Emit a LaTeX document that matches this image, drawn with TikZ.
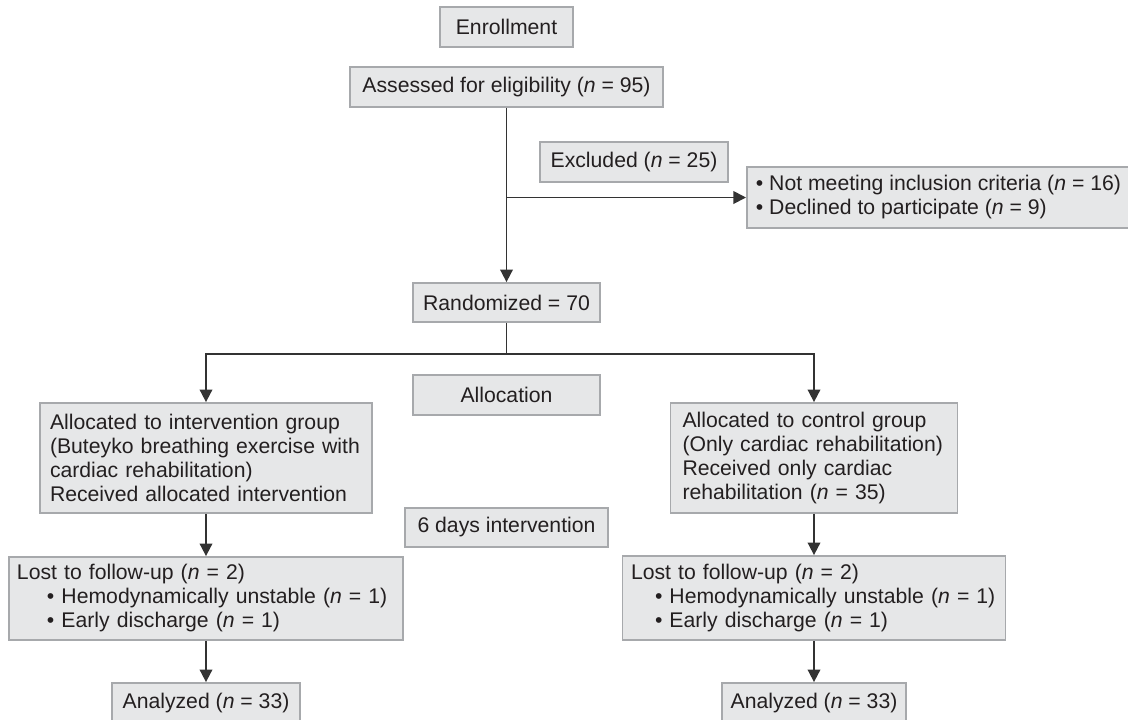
\documentclass[tikz,border=0pt]{standalone}
\usepackage{fontspec}
\setmainfont{Liberation Sans}
\usetikzlibrary{arrows.meta}
\definecolor{boxfill}{HTML}{E6E7E8}
\definecolor{boxline}{HTML}{A7A9AC}
\definecolor{arrowline}{HTML}{333333}
\definecolor{textcol}{HTML}{231F20}

\begin{document}
\begin{tikzpicture} [
  x=0.5pt,
  y=-0.5pt,
  ->,
  >={Triangle[length=6.3pt,width=6.3pt]},
  color=arrowline,
  line width=0.9pt,
  main node/.style={rectangle,draw=boxline,fill=boxfill,inner sep=0pt,
    text=textcol,font=\fontsize{10.6pt}{12pt}\selectfont,align=center},
  list node/.style={main node,align=left},
  ]

  \useasboundingbox (0,0) rectangle (1128,719);

  \node[main node, minimum width=66.5pt, minimum height=20pt] (enroll) at (506.5,27) {Enrollment};
  \node[main node, minimum width=156.5pt, minimum height=20pt] (assess) at (506.5,87)
    {Assessed for eligibility (\textit{n} = 95)};
  \node[main node, minimum width=94pt, minimum height=20pt] (excl) at (634,162)
    {Excluded (\textit{n} = 25)};
  \node[list node, inner xsep=4.5pt, minimum height=30.5pt, anchor=west] (reasons)
    at (746,197.5) {• Not meeting inclusion criteria (\textit{n} = 16)\\
    • Declined to participate (\textit{n} = 9)};
  \node[main node, minimum width=93.5pt, minimum height=19.5pt] (rand) at (506.5,302.5) {Randomized = 70};
  \node[main node, minimum width=93.5pt, minimum height=20pt] (alloc) at (506.5,395) {Allocation};
  \node[list node, inner xsep=5pt, text width=156pt, minimum height=55pt] (intv) at (206,458)
    {Allocated to intervention group\\(Buteyko breathing exercise with\\
    cardiac rehabilitation)\\Received allocated intervention};
  \node[list node, inner xsep=6pt, text width=131.5pt, minimum height=55pt] (ctrl) at (814,458)
    {Allocated to control group\\(Only cardiac rehabilitation)\\
    Received only cardiac\\rehabilitation (\textit{n} = 35)};
  \node[main node, minimum width=101.5pt, minimum height=19.5pt] (days) at (506.5,527.5) {6 days intervention};
  \node[list node, inner xsep=4pt, text width=189pt, minimum height=41.5pt] (lostL) at (206,598.5)
    {Lost to follow-up (\textit{n} = 2)\\
    \hspace*{15pt}• Hemodynamically unstable (\textit{n} = 1)\\
    \hspace*{15pt}• Early discharge (\textit{n} = 1)};
  \node[list node, inner xsep=4.25pt, text width=183pt, minimum height=42pt] (lostR) at (814,598)
    {Lost to follow-up (\textit{n} = 2)\\
    \hspace*{12pt}• Hemodynamically unstable (\textit{n} = 1)\\
    \hspace*{12pt}• Early discharge (\textit{n} = 1)};
  \node[main node, minimum width=94pt, minimum height=20pt] (anaL) at (206,703) {Analyzed (\textit{n} = 33)};
  \node[main node, minimum width=92pt, minimum height=20pt] (anaR) at (814,703) {Analyzed (\textit{n} = 33)};

  \coordinate (split) at (assess.south |- reasons.west);
  \coordinate (fork) at (506.5,354);

  \draw (assess) -- (rand);
  \draw (split) -- (reasons);
  \draw[-] (rand) -- (fork);
  \draw (fork) -| (intv);
  \draw (fork) -| (ctrl);

  \path
    (intv) edge (lostL)
    (lostL) edge (anaL)
    (ctrl) edge (lostR)
    (lostR) edge (anaR);
\end{tikzpicture}
\end{document}
